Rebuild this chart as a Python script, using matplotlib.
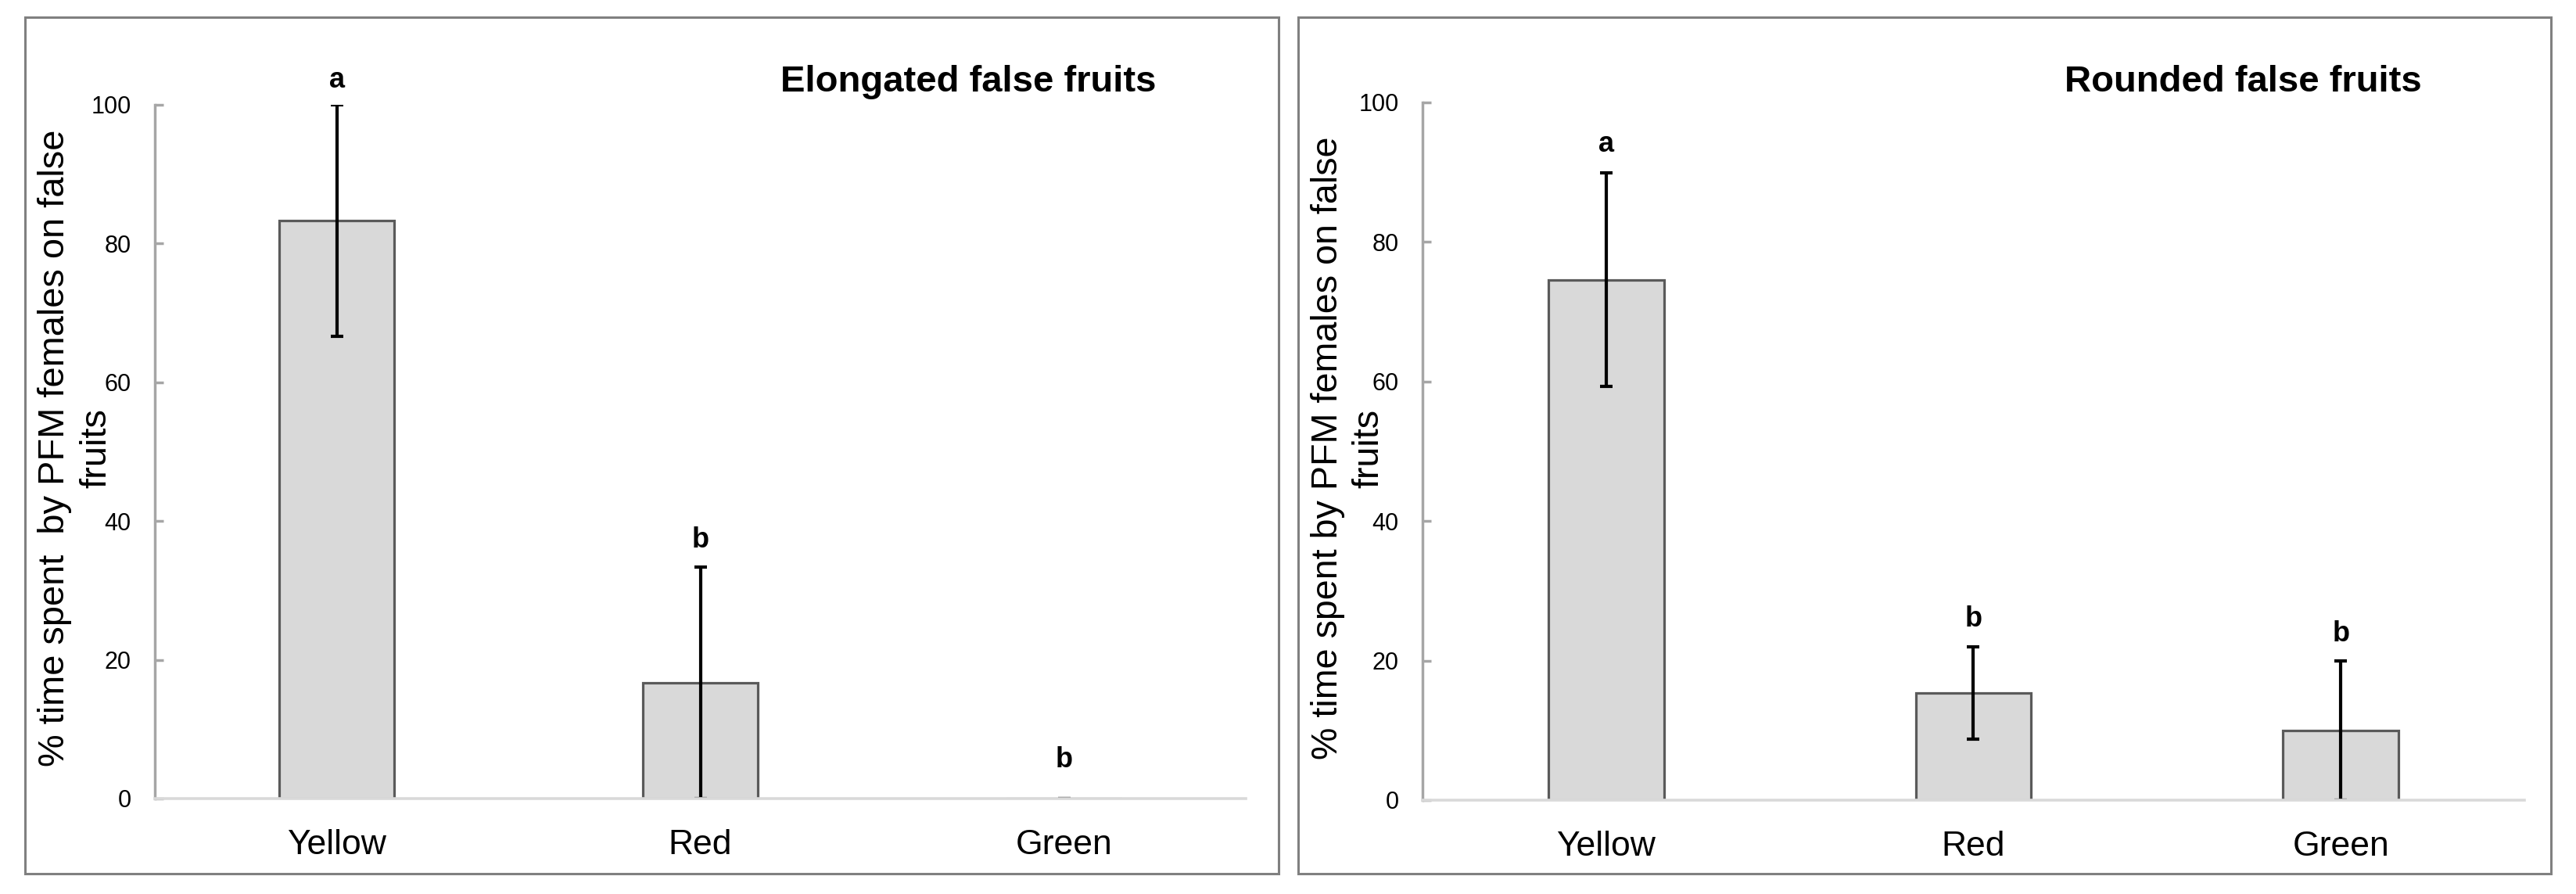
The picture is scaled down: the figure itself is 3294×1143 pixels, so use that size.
import matplotlib
matplotlib.use("Agg")
import matplotlib.pyplot as plt
from matplotlib.patches import Rectangle

plt.rcParams['font.family'] = ['Liberation Sans', 'DejaVu Sans']

categories = ["Yellow", "Red", "Green"]

elong_mean = [83.3, 16.7, 0.0]
elong_err = [16.7, 16.7, 0.0]
elong_letters = ["a", "b", "b"]
elong_letter_y = [103.5, 37.3, 5.6]

round_mean = [74.6, 15.4, 10.0]
round_err = [15.3, 6.6, 10.0]
round_letters = ["a", "b", "b"]
round_letter_y = [94.0, 26.0, 23.8]

W, H = 3294, 1143
fig = plt.figure(figsize=(W / 100, H / 100), dpi=100)


def fx(px):
    return px / W


def fy(py):
    return 1 - py / H


def panel(rect, means, errs, letters, letter_y, title, title_x,
          ylab, ylab_size, ylab_x, frame):
    x0, x1, y0, y1 = frame
    fig.add_artist(Rectangle((fx(x0), fy(y1)), fx(x1 - x0), (y1 - y0) / H,
                             transform=fig.transFigure, fill=False,
                             ec='#808080', lw=2.2))
    ax = fig.add_axes(rect)
    xs = range(len(categories))
    ax.bar(xs, means, width=0.315, color='#d9d9d9', edgecolor='#5a5a5a',
           linewidth=2.3, zorder=1)
    ax.errorbar(xs, means, yerr=errs, fmt='none', ecolor='black',
                elinewidth=3, capsize=5.5, capthick=3, zorder=2)
    for x, lab, ly in zip(xs, letters, letter_y):
        ax.text(x, ly, lab, ha='center', va='center', fontsize=26,
                fontweight='bold', clip_on=False)
    ax.set_xlim(-0.5, 2.5)
    ax.set_ylim(0, 100)
    ax.set_yticks([0, 20, 40, 60, 80, 100])
    ax.set_xticks(list(xs))
    ax.set_xticklabels(categories, fontsize=32)
    ax.tick_params(axis='x', length=0, pad=28)
    ax.tick_params(axis='y', direction='in', length=8, width=2.5,
                   color='#a6a6a6', labelsize=22, pad=22)
    for s in ['top', 'right']:
        ax.spines[s].set_visible(False)
    ax.spines['left'].set_color('#a6a6a6')
    ax.spines['left'].set_linewidth(2.5)
    ax.spines['bottom'].set_color('#d9d9d9')
    ax.spines['bottom'].set_linewidth(2.6)
    ax.spines['bottom'].set_zorder(3)

    fig.text(fx(title_x), fy(117), title, ha='center', va='baseline',
             fontsize=34, fontweight='bold')
    b1, b2 = ylab_x
    fig.text(fx(b1), fy(573), ylab, rotation=90, rotation_mode='anchor',
             ha='center', va='baseline', fontsize=ylab_size)
    fig.text(fx(b2), fy(573), "fruits", rotation=90, rotation_mode='anchor',
             ha='center', va='baseline', fontsize=ylab_size)
    return ax


panel([fx(198), fy(1021), fx(1593 - 198), (1021 - 134) / H],
      elong_mean, elong_err, elong_letters, elong_letter_y,
      "Elongated false fruits", 1238,
      "% time spent  by PFM females on false", 33.8, (82, 135),
      (32, 1635, 22, 1117))

panel([fx(1819), fy(1023), fx(3228 - 1819), (1023 - 131) / H],
      round_mean, round_err, round_letters, round_letter_y,
      "Rounded false fruits", 2868,
      "% time spent by PFM females on false", 33.6, (1710, 1762),
      (1660, 3262, 22, 1117))

fig.savefig("out.png", dpi=100)
